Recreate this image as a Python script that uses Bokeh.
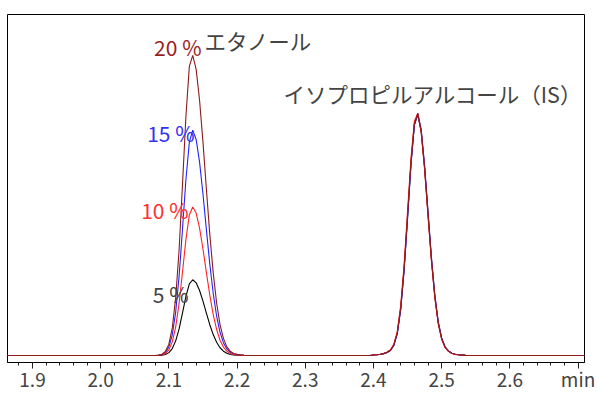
from bokeh.plotting import figure
from bokeh.models import Range1d, FixedTicker, Label
from bokeh.embed import file_html
from bokeh.resources import INLINE

# ---- data ----
time_start = [1.86]
time_end = [2.71]
time_ethanol = [2.080, 2.085, 2.090, 2.095, 2.100, 2.105, 2.110, 2.115, 2.120, 2.125,
                2.130, 2.135, 2.140, 2.145, 2.150, 2.155, 2.160, 2.165, 2.170, 2.175,
                2.180, 2.185, 2.190, 2.195, 2.200, 2.205, 2.210, 2.220]
time_is = [2.395, 2.400, 2.405, 2.410, 2.415, 2.420, 2.425, 2.430, 2.435, 2.440,
           2.445, 2.450, 2.455, 2.460, 2.465, 2.470, 2.475, 2.480, 2.485, 2.490,
           2.495, 2.500, 2.505, 2.510, 2.515, 2.520, 2.525, 2.530, 2.535, 2.545]

eth_5 = [0, 0.1, 0.3, 1.0, 2.9, 7.0, 14.7, 26.8, 42.7, 59.4, 71.9, 76.0, 72.9, 65.2,
         54.5, 42.5, 30.9, 21.0, 13.3, 7.8, 4.3, 2.2, 1.1, 0.5, 0.3, 0.2, 0.1, 0]
eth_10 = [0, 0.2, 0.7, 2.1, 5.7, 13.7, 28.8, 52.4, 83.7, 116.4, 141.0, 149.0, 142.9, 127.8,
          106.8, 83.3, 60.5, 41.1, 26.1, 15.3, 8.5, 4.3, 2.1, 1.0, 0.6, 0.3, 0.1, 0]
eth_15 = [0, 0.3, 1.0, 3.1, 8.6, 20.8, 43.6, 79.6, 127.0, 176.5, 213.8, 226.0, 216.7, 193.9,
          162.0, 126.3, 91.8, 62.4, 39.6, 23.3, 12.9, 6.6, 3.2, 1.6, 0.9, 0.5, 0.2, 0]
eth_20 = [0, 0.4, 1.3, 4.2, 11.4, 27.7, 58.1, 106.0, 172.0, 240.0, 290.0, 301.0, 287.0, 256.0,
          214.0, 167.0, 121.5, 83.1, 52.7, 31.0, 17.2, 8.7, 4.2, 2.1, 1.2, 0.6, 0.3, 0]

is_5 = [0, 0.5, 0.7, 1.2, 1.9, 3.1, 5.3, 10.6, 22.7, 47.4, 87.1, 139.1, 192.4, 231.3, 241.5,
        224.6, 188.0, 142.0, 96.6, 59.3, 32.9, 16.9, 8.5, 4.4, 2.2, 1.2, 0.7, 0.4, 0.1, 0]
is_10 = [0, 0.6, 0.8, 1.3, 2.1, 3.5, 5.8, 11.6, 24.5, 50.5, 91.5, 144.5, 197.5, 235.0, 243.0,
         224.0, 186.5, 140.0, 94.8, 57.8, 32.0, 16.4, 8.2, 4.2, 2.1, 1.1, 0.6, 0.3, 0.1, 0]
is_15 = [0, 0.5, 0.7, 1.1, 1.8, 3.0, 5.0, 10.2, 21.9, 45.9, 85.0, 136.8, 190.8, 231.0, 242.8,
         226.8, 190.8, 144.9, 99.0, 61.0, 34.0, 17.6, 8.8, 4.6, 2.3, 1.2, 0.7, 0.4, 0.1, 0]
is_20 = [0, 0.5, 0.7, 1.2, 1.9, 3.2, 5.3, 10.7, 22.8, 47.6, 87.5, 139.7, 193.2, 232.3, 242.5,
         225.5, 188.8, 142.6, 97.0, 59.5, 33.0, 17.0, 8.5, 4.4, 2.2, 1.2, 0.7, 0.4, 0.1, 0]

series_names = ["5 %", "10 %", "15 %", "20 %"]
compound_names = ["エタノール", "イソプロピルアルコール（IS）"]
tick_values = [1.9, 2.0, 2.1, 2.2, 2.3, 2.4, 2.5, 2.6, 2.7]
tick_labels = ["1.9", "2.0", "2.1", "2.2", "2.3", "2.4", "2.5", "2.6", "min"]
minor_values = [1.88, 1.92, 1.94, 1.96, 1.98, 2.02, 2.04, 2.06, 2.08, 2.12, 2.14, 2.16, 2.18,
                2.22, 2.24, 2.26, 2.28, 2.32, 2.34, 2.36, 2.38, 2.42, 2.44, 2.46, 2.48,
                2.52, 2.54, 2.56, 2.58, 2.62, 2.64, 2.66, 2.68]

# ---- figure ----
FONT = "Noto Sans CJK JP"
p = figure(width=597, height=394, output_backend="svg", toolbar_location=None,
           x_range=Range1d(1.86334, 2.7095), y_range=Range1d(-7, 342),
           y_axis_location=None,
           min_border_left=7, min_border_right=13, min_border_top=14, min_border_bottom=0)
p.outline_line_color = "black"
p.outline_line_width = 1
p.outline_line_alpha = 1
p.xgrid.visible = False
p.ygrid.visible = False
p.background_fill_color = "white"
p.border_fill_color = "white"

ax = p.xaxis[0]
ax.ticker = FixedTicker(ticks=tick_values, minor_ticks=minor_values)
ax.major_label_overrides = {v: s for v, s in zip(tick_values, tick_labels)}
ax.axis_line_color = "black"
ax.major_tick_line_color = "#222222"
ax.minor_tick_line_color = "#222222"
ax.major_tick_in = 0
ax.major_tick_out = 6
ax.minor_tick_in = 0
ax.minor_tick_out = 3
ax.major_label_standoff = -4
ax.major_label_text_font = FONT
ax.major_label_text_font_size = "19px"
ax.major_label_text_color = "#444444"

colors = {"5 %": "#000000", "10 %": "#ff2222", "15 %": "#2222ff", "20 %": "#8b1a1a"}
eth = {"5 %": eth_5, "10 %": eth_10, "15 %": eth_15, "20 %": eth_20}
isv = {"5 %": is_5, "10 %": is_10, "15 %": is_15, "20 %": is_20}

xs = time_start + time_ethanol + time_is + time_end
for name in ["5 %", "15 %", "10 %", "20 %"]:
    ys = [0] + eth[name] + isv[name] + [0]
    p.line(xs, ys, line_color=colors[name], line_width=1.1)

text_colors = {"5 %": "#444444", "10 %": "#ff3030", "15 %": "#3333f0", "20 %": "#9a1e1e"}
pct_pos = {"20 %": (2.1478, 309), "15 %": (2.1376, 223), "10 %": (2.1288, 146), "5 %": (2.1288, 62)}
for name in series_names:
    x, y = pct_pos[name]
    p.add_layout(Label(x=x, y=y, text=name, text_align="right", text_baseline="middle",
                       text_font=FONT, text_font_size="21px", text_color=text_colors[name]))

p.add_layout(Label(x=2.1522, y=316, text=compound_names[0], text_align="left",
                   text_baseline="middle", text_font=FONT, text_font_size="21.5px",
                   text_color="#444444"))
p.add_layout(Label(x=2.268, y=263, text=compound_names[1], text_align="left",
                   text_baseline="middle", text_font=FONT, text_font_size="21.5px",
                   text_color="#444444"))

open("out.html", "w").write(file_html(p, INLINE))
